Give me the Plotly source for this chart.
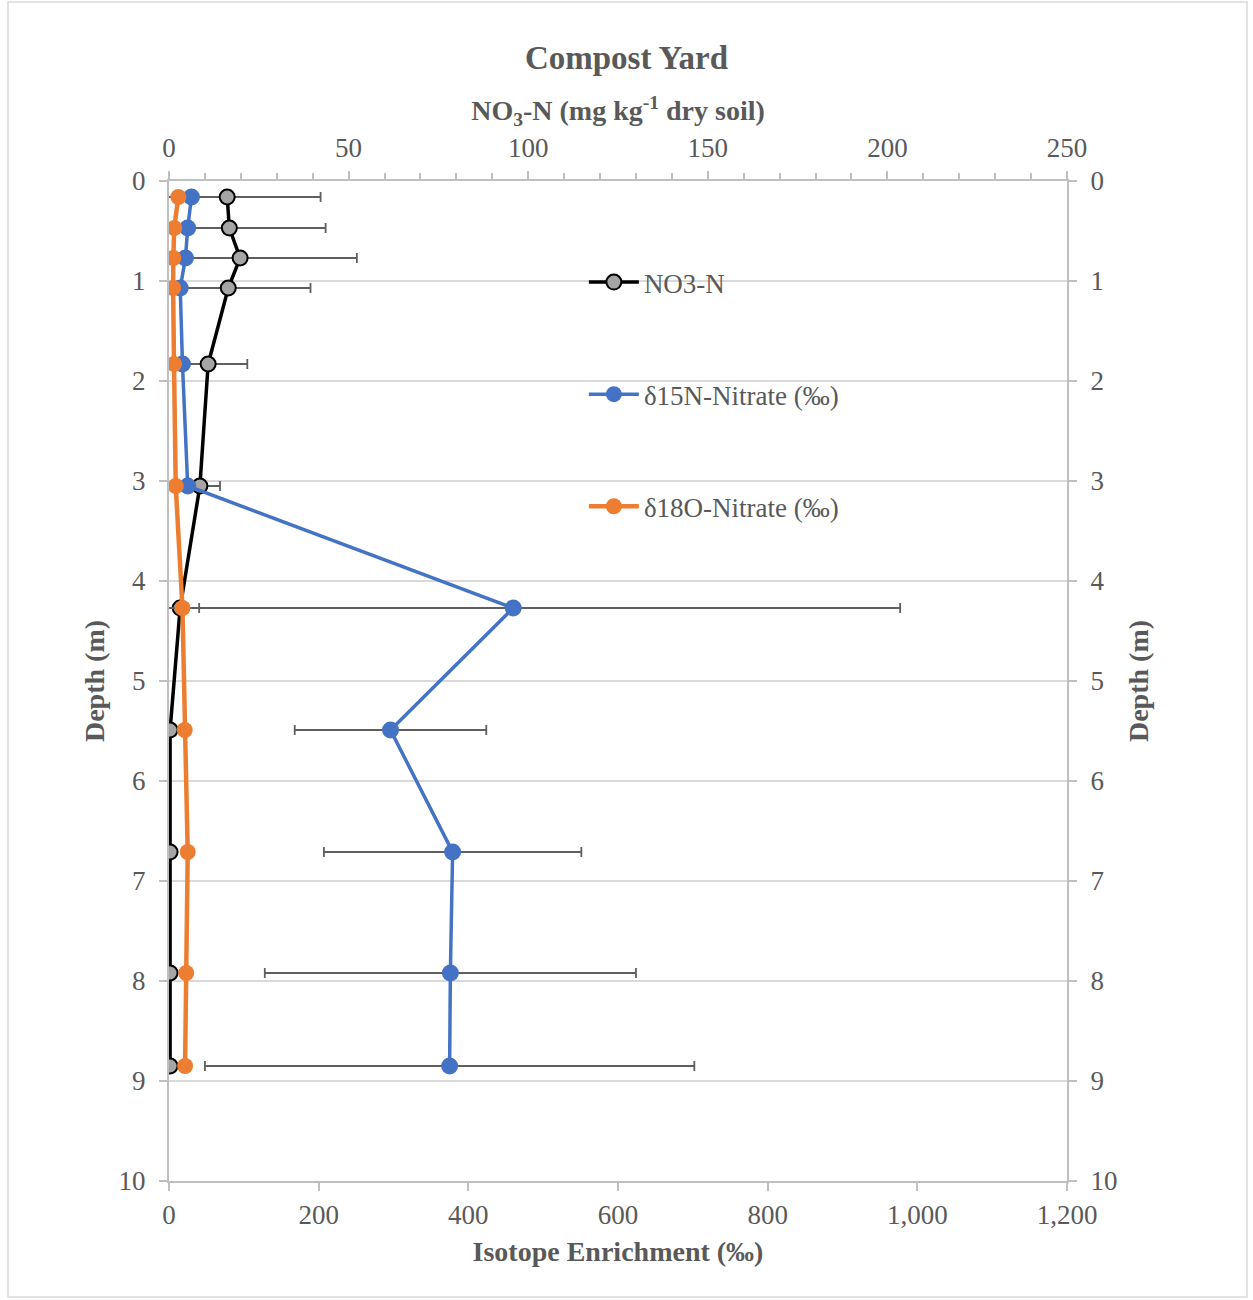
import plotly.graph_objects as go

# ---- data ----
depth_m = [0.16, 0.47, 0.77, 1.07, 1.83, 3.05, 4.27, 5.49, 6.71, 7.92, 8.85]

no3_n = [16.2, 16.8, 19.8, 16.5, 10.9, 8.6, 3.1, 0.3, 0.3, 0.3, 0.3]
no3_n_err = [26.0, 26.8, 32.5, 22.9, 10.9, 5.6, 5.3, 0, 0, 0, 0]

d15n = [30.0, 25.0, 22.0, 15.0, 18.0, 25.0, 460.0, 296.0, 379.0, 376.0, 375.0]
d15n_err = [0, 0, 0, 0, 0, 0, 517.0, 128.0, 172.0, 248.0, 327.0]

d18o = [12.5, 7.0, 5.8, 5.5, 6.7, 9.0, 18.0, 21.0, 25.0, 23.0, 21.5]

top_ticks = [0, 50, 100, 150, 200, 250]
bottom_ticks = [0, 200, 400, 600, 800, 1000, 1200]
bottom_labels = ["0", "200", "400", "600", "800", "1,000", "1,200"]
depth_ticks = list(range(0, 11))

FONT = "Liberation Serif"
TXT = "#595959"
AXIS = "#BFBFBF"
GRID = "#D9D9D9"
ERR = "#5f5f5f"

fig = go.Figure()

fig.add_trace(go.Scatter(
    x=no3_n, y=depth_m, xaxis="x", yaxis="y", name="NO3-N",
    mode="lines+markers", legendgroup="a",
    line=dict(color="black", width=3.5),
    marker=dict(color="#A5A5A5", size=15, line=dict(color="black", width=2)),
    error_x=dict(type="data", array=no3_n_err, color=ERR, thickness=1.8, width=5),
))
fig.add_trace(go.Scatter(
    x=d15n, y=depth_m, xaxis="x2", yaxis="y2", name="δ15N-Nitrate (‰)",
    mode="lines+markers", legendgroup="b",
    line=dict(color="#4472C4", width=3.5),
    marker=dict(color="#4472C4", size=17),
    error_x=dict(type="data", array=d15n_err, color=ERR, thickness=1.8, width=5),
))
fig.add_trace(go.Scatter(
    x=d18o, y=depth_m, xaxis="x2", yaxis="y2", name="δ18O-Nitrate (‰)",
    mode="lines+markers", legendgroup="c",
    line=dict(color="#ED7D31", width=4.5),
    marker=dict(color="#ED7D31", size=16),
))

tickfont = dict(family=FONT, size=27, color=TXT)
titlefont = dict(family=FONT, size=28, color=TXT)

fig.update_layout(
    width=1253, height=1300,
    margin=dict(l=169, r=186, t=181, b=119),
    paper_bgcolor="white", plot_bgcolor="white",
    font=dict(family=FONT, color=TXT),
    title=dict(text="<b>Compost Yard</b>", x=0.5, xref="container", xanchor="center",
               y=1 - 57 / 1300, yanchor="middle",
               font=dict(family=FONT, size=33, color=TXT)),
    showlegend=True,
    legend=dict(x=0.462, xanchor="left", y=0.923, yanchor="top",
                bgcolor="rgba(0,0,0,0)", tracegroupgap=74,
                font=dict(family=FONT, size=27, color=TXT),
                itemwidth=50),
    xaxis=dict(
        range=[0, 250], side="top", anchor="y",
        tickvals=top_ticks, ticktext=[str(v) for v in top_ticks],
        tickfont=tickfont, ticks="outside", ticklen=8, tickcolor=AXIS, tickwidth=1.5,
        minor=dict(dtick=10, ticks="outside", ticklen=6, tickcolor=AXIS, tickwidth=1.5, showgrid=False),
        showline=True, linecolor=AXIS, linewidth=2, showgrid=False, zeroline=False,
        ticklabelstandoff=3,
        title=dict(text="<b>NO<sub>3</sub>-N (mg kg<sup>-1</sup> dry soil)</b>",
                   font=titlefont, standoff=4),
    ),
    xaxis2=dict(
        range=[0, 1200], side="bottom", overlaying="x", anchor="y2",
        tickvals=bottom_ticks, ticktext=bottom_labels,
        tickfont=tickfont, ticks="outside", ticklen=8, tickcolor=AXIS, tickwidth=1.5,
        showline=True, linecolor=AXIS, linewidth=2, showgrid=False, zeroline=False,
        ticklabelstandoff=1,
        title=dict(text="<b>Isotope Enrichment (‰)</b>", font=titlefont, standoff=12),
    ),
    yaxis=dict(
        range=[10, 0], side="left", anchor="x",
        tickvals=depth_ticks, tickfont=tickfont, ticks="outside", ticklen=8,
        tickcolor=AXIS, tickwidth=1.5,
        showline=True, linecolor=AXIS, linewidth=2, showgrid=True, gridcolor=GRID,
        gridwidth=2, zeroline=False, ticklabelstandoff=8,
        title=dict(text="<b>Depth (m)</b>", font=titlefont, standoff=6),
    ),
    yaxis2=dict(
        range=[10, 0], side="right", overlaying="y", anchor="x2",
        tickvals=depth_ticks, tickfont=tickfont, ticks="outside", ticklen=8,
        tickcolor=AXIS, tickwidth=1.5,
        showline=True, linecolor=AXIS, linewidth=2, showgrid=False, zeroline=False,
        ticklabelstandoff=8,
        title=dict(text="<b>Depth (m)</b>", font=titlefont, standoff=12),
    ),
    shapes=[dict(type="rect", xref="paper", yref="paper",
                 x0=(8 - 169) / 898, x1=(1247 - 169) / 898,
                 y0=(1181 - 1297) / 1000, y1=(1181 - 2) / 1000,
                 line=dict(color=GRID, width=1.5), fillcolor="rgba(0,0,0,0)", layer="below")],
)

fig.write_html("out.html")
